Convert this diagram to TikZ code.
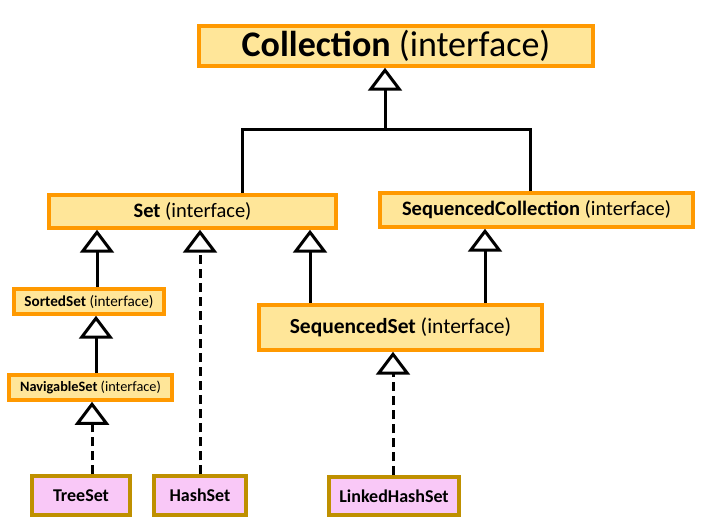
\documentclass[tikz,border=0pt]{standalone}
\usepackage{fontspec}
\setmainfont{Carlito}
\usetikzlibrary{arrows.meta}
\definecolor{ifacefill}{HTML}{FFE699}
\definecolor{ifaceline}{HTML}{FF9900}
\definecolor{classfill}{HTML}{F9C8F7}
\definecolor{classline}{HTML}{BF9000}
\tikzset{
    box/.style={
        rectangle,
        draw=ifaceline,
        fill=ifacefill,
        line width=3.5pt,
        inner sep=0pt,
        align=center
    },
    classbox/.style={
        box,
        draw=classline,
        fill=classfill,
        font=\fontsize{18}{22}\selectfont\bfseries
    },
    inherit/.style={
        -{Triangle[open, length=23pt, width=34pt]},
        line width=3pt
    },
    implement/.style={
        inherit,
        dash pattern=on 9pt off 5pt
    },
    link/.style={
        line width=3pt
    }
}

\begin{document}
\begin{tikzpicture}[x=1pt, y=-1pt]
    \useasboundingbox (0,0) rectangle (704,526);

    \node[box, minimum width=394pt, minimum height=40pt, font=\fontsize{36}{40}\selectfont] (coll) at (396,46) {\textbf{Collection} (interface)};
    \node[box, minimum width=287pt, minimum height=33pt, font=\fontsize{20.5}{24}\selectfont] (set) at (192.5,211.5) {\textbf{Set} (interface)};
    \node[box, minimum width=313pt, minimum height=34pt, font=\fontsize{20.5}{24}\selectfont] (seqcoll) at (536.5,210) {\textbf{SequencedCollection} (interface)};
    \node[box, minimum width=150pt, minimum height=25pt, font=\fontsize{15.2}{18}\selectfont] (sorted) at (89,301.5) {\textbf{SortedSet} (interface)};
    \node[box, minimum width=163pt, minimum height=25pt, font=\fontsize{14.3}{18}\selectfont] (navig) at (90.5,387.5) {\textbf{NavigableSet} (interface)};
    \node[box, minimum width=283pt, minimum height=45pt, font=\fontsize{21.5}{26}\selectfont] (seqset) at (400.5,327.5) {\textbf{SequencedSet} (interface)};
    \node[classbox, minimum width=98pt, minimum height=39pt] (tree) at (81,495.5) {TreeSet};
    \node[classbox, minimum width=92pt, minimum height=39pt] (hash) at (200,495.5) {HashSet};
    \node[classbox, minimum width=130pt, minimum height=38pt] (linked) at (394,496) {LinkedHashSet};

    \coordinate (fork) at (385,130);
    \coordinate (forkL) at (242,130);
    \coordinate (forkR) at (530,130);
    \coordinate (sortedx) at (97,0);
    \coordinate (navigx) at (96,0);
    \coordinate (treex) at (92,0);
    \coordinate (hashx) at (200,0);
    \coordinate (seqsetx) at (310,0);
    \coordinate (seqcollx) at (485,0);
    \coordinate (linkedx) at (393,0);

    \draw[inherit] (fork) -- (coll.south -| fork);
    \draw[link] (set.north -| forkL) -- (forkL) -- (forkR) -- (seqcoll.north -| forkR);

    \draw[inherit] (sorted.north -| sortedx) -- (set.south -| sortedx);
    \draw[inherit] (navig.north -| navigx) -- (sorted.south -| navigx);
    \draw[implement] (tree.north -| treex) -- (navig.south -| treex);
    \draw[implement] (hash.north -| hashx) -- (set.south -| hashx);
    \draw[inherit] (seqset.north -| seqsetx) -- (set.south -| seqsetx);
    \draw[inherit] (seqset.north -| seqcollx) -- (seqcoll.south -| seqcollx);
    \draw[implement] (linked.north -| linkedx) -- (seqset.south -| linkedx);

\end{tikzpicture}
\end{document}
